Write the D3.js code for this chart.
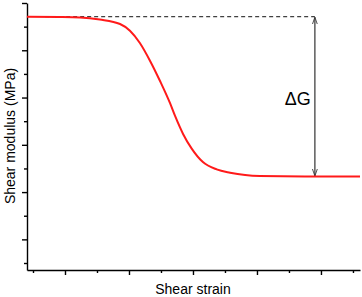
<!DOCTYPE html>
<html><head><meta charset="utf-8">
<script src="https://cdn.jsdelivr.net/npm/d3@7"></script>
<style>html,body{margin:0;padding:0;background:#fff;}svg{display:block;}</style>
</head><body>
<svg id="c" width="362" height="297"></svg>
<script>
// Data (arbitrary units)
const strain  = [0.81, 1.84, 2.47, 3.09, 3.72, 4.03, 4.34, 4.66, 4.97, 5.28, 5.44, 5.69, 5.96, 6.31, 6.74, 7.16, 7.63, 8.09, 9.5, 11.22];
const modulus = [11.42, 11.41, 11.39, 11.30, 11.11, 10.83, 10.31, 9.55, 8.70, 7.77, 7.22, 6.46, 5.84, 5.27, 4.96, 4.82, 4.72, 4.68, 4.66, 4.66];
const xTicks = [1,2,3,4,5,6,7,8,9,10,11];
const yTicks = [1,2,3,4,5,6,7,8,9,10,11,12];
const plateauHigh = 11.42, plateauLow = 4.66;
const dashStart = 1.38, arrowX = 9.81;
const xLabel = "Shear strain", yLabel = "Shear modulus (MPa)", deltaLabel = "ΔG";

const svg = d3.select("#c");
const x = d3.scaleLinear().domain([0.8125, 11.22]).range([27, 360]);
const y = d3.scaleLinear().domain([0.704, 12]).range([270, 3]);

svg.append("defs").append("marker").attr("id","ah").attr("viewBox","0 0 10 10")
  .attr("refX",10).attr("refY",5).attr("markerWidth",6).attr("markerHeight",6)
  .attr("orient","auto-start-reverse")
  .append("path").attr("d","M0,1.5L10,5L0,8.5").attr("fill","none").attr("stroke","#333").attr("stroke-width",1.2);

// Axes
const xAxis = d3.axisBottom(x).tickValues(xTicks).tickFormat("")
  .tickSize(0).tickSizeOuter(0);
const gx = svg.append("g").attr("transform","translate(0,270)").call(xAxis);
gx.selectAll(".tick line").attr("y2", d => d % 2 === 0 ? 5 : 3);
const yAxis = d3.axisLeft(y).tickValues(yTicks).tickFormat("").tickSize(0).tickSizeOuter(0);
const gy = svg.append("g").attr("transform","translate(27,0)").call(yAxis);
gy.selectAll(".tick line").attr("x2", d => d % 2 === 0 ? -5 : -3);
svg.selectAll(".domain, .tick line").attr("stroke","#000").attr("stroke-width",1.4);

// Dashed reference line
svg.append("line").attr("x1",x(dashStart)).attr("x2",x(arrowX))
  .attr("y1",y(plateauHigh)).attr("y2",y(plateauHigh))
  .attr("stroke","#111").attr("stroke-width",1).attr("stroke-dasharray","4,3");

// Arrow
svg.append("line").attr("x1",x(arrowX)).attr("x2",x(arrowX))
  .attr("y1",y(plateauHigh)+0.5).attr("y2",y(plateauLow)-0.5)
  .attr("stroke","#333").attr("stroke-width",1.2)
  .attr("marker-start","url(#ah)").attr("marker-end","url(#ah)");

// Curve
const pts = strain.map((s,i)=>[s, modulus[i]]);
svg.append("path").datum(pts)
  .attr("d", d3.line().x(d=>x(d[0])).y(d=>y(d[1])).curve(d3.curveMonotoneX))
  .attr("fill","none").attr("stroke","#ff1a1a").attr("stroke-width",2);

// Labels
svg.append("text").attr("x",x(arrowX)-4).attr("y",105).attr("text-anchor","end")
  .attr("font-family","Liberation Sans, Arial, sans-serif").attr("font-size",18).text(deltaLabel);
svg.append("text").attr("x",193).attr("y",294).attr("text-anchor","middle")
  .attr("font-family","Liberation Sans, Arial, sans-serif").attr("font-size",14).text(xLabel);
svg.append("text").attr("transform","translate(15,136) rotate(-90)").attr("text-anchor","middle")
  .attr("font-family","Liberation Sans, Arial, sans-serif").attr("font-size",14).text(yLabel);
</script>
</body></html>
